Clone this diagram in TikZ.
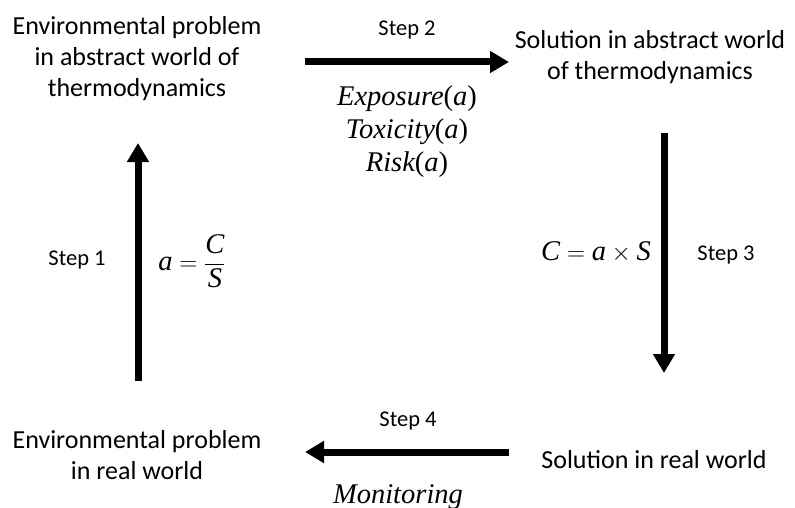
\documentclass[tikz,border=0pt]{standalone}
\usepackage{fontspec}
\setmainfont{Carlito}
\newfontfamily\tnr{Liberation Serif}
\usetikzlibrary{arrows.meta}
\newcommand{\ofa}{\upshape(\itshape a\upshape)}
\tikzset{
  box/.style={align=center, inner sep=0pt, font=\fontsize{26}{31}\selectfont},
  steplbl/.style={inner sep=0pt, font=\fontsize{22.5}{27}\selectfont},
  mathlbl/.style={align=center, inner sep=0pt, font=\fontsize{28.5}{33}\selectfont\tnr\itshape},
  bigarrow/.style={line width=7pt, -{Triangle[length=19pt,width=21pt]}}
}
\begin{document}
\begin{tikzpicture}[x=1pt,y=-1pt]
\useasboundingbox (0,0) rectangle (795,508);
\node[box] (epa) at (137,59) {Environmental problem\\in abstract world of\\thermodynamics};
\node[box] (sa) at (650,57) {Solution in abstract world\\of thermodynamics};
\node[box] (epr) at (137,455) {Environmental problem\\in real world};
\node[box] (sr) at (654,460) {Solution in real world};

\coordinate (a1s) at (138,381);
\coordinate (a1e) at (138,143);
\coordinate (a2s) at (305,62);
\coordinate (a2e) at (509,62);
\coordinate (a3s) at (664,133);
\coordinate (a3e) at (664,373);
\coordinate (a4s) at (509,452);
\coordinate (a4e) at (305,452);

\draw[bigarrow] (a1s) -- (a1e);
\draw[bigarrow] (a2s) -- (a2e);
\draw[bigarrow] (a3s) -- (a3e);
\draw[bigarrow] (a4s) -- (a4e);

\node[steplbl] (st1) at (77,260) {Step 1};
\node[steplbl] (st2) at (407,30) {Step 2};
\node[steplbl] (st3) at (726,255) {Step 3};
\node[steplbl] (st4) at (408,421) {Step 4};

\node[mathlbl] (m2) at (407,132) {Exposure\ofa\\Toxicity\ofa\\Risk\ofa};
\node[inner sep=0pt, font=\fontsize{28.5}{32}\selectfont] (m1) at (192,261)
  {$\displaystyle\mbox{\tnr\itshape a}\mathrel{=}\frac{\mbox{\tnr\itshape C}}{\mbox{\tnr\itshape S}}$};
\node[inner sep=0pt, font=\fontsize{28.5}{32}\selectfont] (m3) at (596,252)
  {$\mbox{\tnr\itshape C}\mathrel{=}\mbox{\tnr\itshape a}\times\mbox{\tnr\itshape S}$};
\node[mathlbl] (m4) at (398,497) {Monitoring};
\end{tikzpicture}
\end{document}
